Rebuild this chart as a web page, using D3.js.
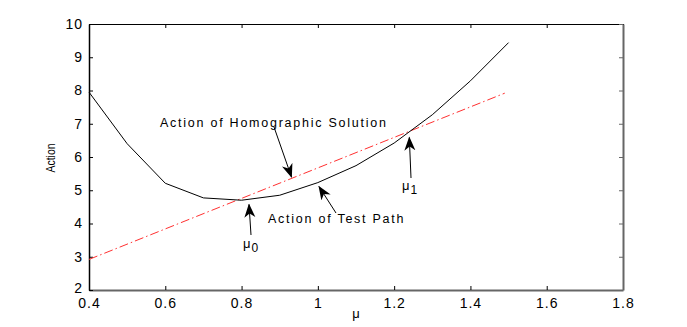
<!DOCTYPE html>
<html>
<head>
<meta charset="utf-8">
<script src="https://cdn.jsdelivr.net/npm/d3@7"></script>
<style>
  body { margin: 0; background: #fff; }
  text { font-family: "Liberation Sans", Arial, sans-serif; fill: #000; }
</style>
</head>
<body>
<div id="chart"></div>
<script>
// test path action, sampled every 0.1 in mu
var muValues = [0.4, 0.5, 0.6, 0.7, 0.8, 0.9, 1.0, 1.1, 1.2, 1.3, 1.4, 1.5];
var testAction = [7.95, 6.4, 5.21, 4.77, 4.7, 4.85, 5.23, 5.74, 6.42, 7.27, 8.29, 9.44];
// homographic solution action (straight line)
var homoMu = [0.4, 1.49];
var homoAction = [2.92, 7.92];
var xTicks = [0.4, 0.6, 0.8, 1, 1.2, 1.4, 1.6, 1.8];
var yTicks = [2, 3, 4, 5, 6, 7, 8, 9, 10];

var width = 687, height = 327;
var margin = {left: 89, right: 64, top: 24, bottom: 37};

var svg = d3.select("#chart").append("svg")
    .attr("width", width)
    .attr("height", height);

var x = d3.scaleLinear().domain([0.4, 1.8]).range([margin.left, width - margin.right]);
var y = d3.scaleLinear().domain([2, 10]).range([height - margin.bottom, margin.top]);

var fmt = function (d) { return d === 1 ? "1" : d3.format("")(d); };

// bottom axis
svg.append("g")
    .attr("transform", "translate(0," + y(2) + ")")
    .call(d3.axisBottom(x).tickValues(xTicks).tickSizeInner(-4).tickSizeOuter(0).tickPadding(8).tickFormat(fmt))
    .call(function (g) {
        g.select(".domain").attr("stroke", "#666").attr("stroke-width", 2);
        g.selectAll("text").attr("font-size", 14).attr("letter-spacing", 1);
    });

// top axis (ticks only)
svg.append("g")
    .attr("transform", "translate(0," + y(10) + ")")
    .call(d3.axisTop(x).tickValues(xTicks).tickSizeInner(-4).tickSizeOuter(0).tickFormat(""))
    .select(".domain").attr("stroke", "#000");

// left axis
svg.append("g")
    .attr("transform", "translate(" + x(0.4) + ",0)")
    .call(d3.axisLeft(y).tickValues(yTicks).tickSizeInner(-4).tickSizeOuter(0).tickPadding(6))
    .call(function (g) {
        g.select(".domain").attr("stroke", "#000").attr("stroke-width", 1.5);
        g.selectAll("text").attr("font-size", 14).attr("letter-spacing", 1);
        // the lowest label sits just above the 0.4 label
        g.selectAll(".tick").filter(function (d) { return d === 2; })
            .select("text").attr("dy", "0.15em");
    });

// right axis (ticks only)
svg.append("g")
    .attr("transform", "translate(" + x(1.8) + ",0)")
    .call(d3.axisRight(y).tickValues(yTicks).tickSizeInner(-4).tickSizeOuter(0).tickFormat(""))
    .call(function (g) {
        g.select(".domain").attr("stroke", "#666").attr("stroke-width", 2);
        g.selectAll("line").attr("stroke", "#666");
    });

// axis labels
svg.append("text")
    .attr("x", 356).attr("y", 318)
    .attr("text-anchor", "middle")
    .attr("font-size", 13)
    .text("μ");

svg.append("text")
    .attr("transform", "translate(55,158) rotate(-90) scale(0.8,1)")
    .attr("text-anchor", "middle")
    .attr("font-size", 13)
    .text("Action");

var line = d3.line()
    .x(function (d) { return x(d[0]); })
    .y(function (d) { return y(d[1]); });

svg.append("path")
    .datum(d3.zip(homoMu, homoAction))
    .attr("fill", "none")
    .attr("stroke", "#ff3030")
    .attr("stroke-width", 1)
    .attr("stroke-dasharray", "9,3,1.5,3")
    .attr("d", line);

svg.append("path")
    .datum(d3.zip(muValues, testAction))
    .attr("fill", "none")
    .attr("stroke", "#000")
    .attr("stroke-width", 1)
    .attr("d", line);

// annotation arrows
var defs = svg.append("defs");
defs.append("marker")
    .attr("id", "head")
    .attr("viewBox", "0 0 14 12")
    .attr("refX", 13).attr("refY", 6)
    .attr("markerWidth", 14).attr("markerHeight", 12)
    .attr("markerUnits", "userSpaceOnUse")
    .attr("orient", "auto")
    .append("path")
    .attr("d", "M0,0.5 L14,6 L0,11.5 L4,6 Z")
    .attr("fill", "#000");

var arrows = [
    {x1: 274, y1: 127, x2: 291.5, y2: 177},
    {x1: 336, y1: 213, x2: 319, y2: 186.5},
    {x1: 251, y1: 235, x2: 249, y2: 204.5},
    {x1: 411, y1: 178, x2: 409.3, y2: 137.5}
];
svg.selectAll(".arrow").data(arrows).enter().append("line")
    .attr("class", "arrow")
    .attr("x1", function (d) { return d.x1; })
    .attr("y1", function (d) { return d.y1; })
    .attr("x2", function (d) { return d.x2; })
    .attr("y2", function (d) { return d.y2; })
    .attr("stroke", "#000")
    .attr("stroke-width", 1)
    .attr("marker-end", "url(#head)");

svg.append("text")
    .attr("x", 160).attr("y", 127)
    .attr("font-size", 12.5)
    .attr("letter-spacing", 1.75)
    .text("Action of Homographic Solution");

svg.append("text")
    .attr("x", 268).attr("y", 223)
    .attr("font-size", 12.5)
    .attr("letter-spacing", 1.75)
    .text("Action of Test Path");

var mu0 = svg.append("text").attr("x", 243).attr("y", 248).attr("font-size", 13);
mu0.append("tspan").text("μ");
mu0.append("tspan").attr("dy", 4).attr("dx", 1).attr("font-size", 12).text("0");

var mu1 = svg.append("text").attr("x", 402).attr("y", 190).attr("font-size", 13);
mu1.append("tspan").text("μ");
mu1.append("tspan").attr("dy", 4).attr("dx", 1).attr("font-size", 12).text("1");
</script>
</body>
</html>
